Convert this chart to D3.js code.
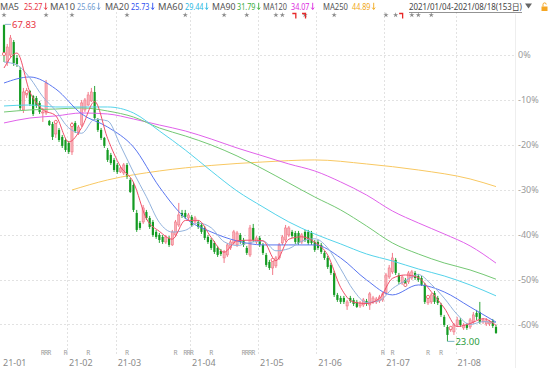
<!DOCTYPE html>
<html>
<head>
<meta charset="utf-8">
<script src="https://cdn.jsdelivr.net/npm/d3@7"></script>
<style>
  html, body { margin: 0; padding: 0; background: #fff; }
  svg { display: block; font-family: "Noto Sans", "Noto Sans CJK SC", sans-serif; }
</style>
</head>
<body>
<svg id="chart" width="553" height="368"></svg>
<script>
// Prix de référence (0 %) et repères de l'axe
const basePrice = 63.5;
const pctTicks = [0, -10, -20, -30, -40, -50, -60];
const monthLabels = ['21-01', '21-02', '21-03', '21-04', '21-05', '21-06', '21-07', '21-08'];
const monthStart = [0, 20, 35, 58, 79, 97, 118, 140];
const rangeText = '2021/01/04-2021/08/18(153日)';

// Bougies journalières (153 séances)
const openP = [67.74, 62.51, 63.50, 65.34, 63.08, 61.38, 55.73, 57.85, 58.41, 57.71, 57.42, 56.72, 55.30, 55.30, 54.17, 53.75, 52.33, 52.90, 51.91, 51.48,
  51.06, 49.79, 53.89, 52.47, 53.60, 55.73, 56.43, 57.00, 58.27, 54.31, 52.90, 51.77, 50.07, 49.36, 48.66,
  47.95, 46.96, 46.82, 47.95, 45.83, 45.12, 41.16, 39.75, 39.89, 41.30, 40.45, 39.89, 38.48, 38.05, 37.77, 37.06, 37.63, 36.64, 38.05, 39.46, 41.16, 41.16, 40.45,
  40.60, 39.89, 39.89, 39.46, 39.04, 37.77, 37.34, 36.92, 36.21, 35.79, 34.80, 35.22, 36.21, 36.92, 36.64, 38.05, 37.34, 36.21, 35.22, 39.04, 37.06,
  37.63, 36.64, 35.22, 34.23, 33.38, 33.67, 34.80, 36.92, 37.34, 38.05, 38.48, 38.33, 38.33, 37.06, 38.48, 38.48, 38.33, 37.06,
  37.06, 36.64, 35.51, 34.80, 33.81, 32.68, 29.57, 29.14, 29.14, 28.01, 29.14, 28.86, 28.58, 28.01, 28.15, 28.72, 28.15, 28.58, 28.58, 28.72, 28.86,
  29.85, 32.11, 32.82, 34.52, 32.39, 31.26, 31.69, 31.41, 31.97, 32.68, 32.25, 31.97, 30.98, 28.44, 28.58, 29.85, 29.14, 28.15, 26.46, 25.04, 24.62, 24.34,
  25.32, 26.03, 24.90, 25.32, 25.04, 25.75, 27.02, 27.16, 25.75, 25.47, 25.47, 25.89, 25.04];
const highP = [67.83, 65.06, 66.33, 65.62, 63.50, 61.81, 58.84, 58.84, 58.55, 57.85, 57.71, 57.00, 56.01, 59.97, 54.31, 54.03, 54.31, 53.18, 52.19, 51.77,
  51.34, 54.03, 54.17, 53.60, 57.14, 57.42, 58.27, 58.84, 59.12, 54.59, 53.18, 51.91, 50.35, 49.65, 48.94,
  48.23, 47.81, 48.23, 48.23, 46.11, 45.55, 41.59, 40.03, 42.29, 41.59, 40.74, 40.17, 38.76, 38.33, 38.05, 38.05, 37.91, 38.76, 40.17, 42.58, 41.59, 41.59, 41.16,
  40.88, 40.74, 40.17, 39.75, 39.32, 38.05, 37.63, 37.20, 36.50, 36.07, 35.93, 36.92, 37.34, 38.76, 38.62, 38.33, 37.63, 36.50, 39.46, 39.61, 37.91,
  37.91, 36.92, 35.51, 34.52, 34.80, 35.08, 36.92, 38.05, 39.46, 39.32, 38.76, 38.62, 38.62, 38.33, 38.76, 38.76, 38.62, 37.34,
  37.34, 36.92, 35.79, 35.08, 34.09, 32.96, 29.85, 29.43, 29.43, 28.86, 29.43, 29.14, 28.86, 28.72, 29.14, 29.00, 29.99, 29.43, 29.28, 29.57, 29.99,
  32.68, 33.81, 35.51, 34.80, 32.68, 32.39, 31.97, 32.96, 33.10, 32.96, 32.54, 32.25, 31.26, 29.57, 29.85, 30.13, 29.43, 28.44, 26.74, 25.32, 25.18, 25.61,
  26.46, 26.31, 25.61, 25.61, 26.31, 27.16, 27.45, 28.58, 26.31, 26.31, 26.03, 26.17, 25.32];
const lowP = [62.51, 61.95, 63.08, 61.95, 61.81, 55.73, 55.30, 57.42, 56.29, 54.88, 56.01, 55.16, 54.03, 55.02, 53.46, 51.48, 51.77, 51.20, 50.35, 49.79,
  49.50, 49.36, 52.47, 52.19, 53.32, 55.44, 56.29, 56.86, 54.31, 52.62, 51.48, 50.35, 48.37, 47.95, 46.96,
  46.68, 46.82, 46.53, 45.97, 43.99, 41.30, 38.48, 38.76, 39.61, 40.17, 38.90, 37.77, 37.49, 36.92, 36.78, 36.78, 36.35, 36.50, 37.77, 39.18, 40.45, 40.31, 40.17,
  39.18, 39.61, 38.90, 38.19, 37.34, 36.78, 35.93, 35.36, 34.94, 35.08, 34.09, 34.94, 35.93, 36.64, 36.35, 36.78, 36.35, 35.22, 34.94, 37.06, 36.78,
  36.35, 35.22, 33.53, 33.10, 32.39, 33.38, 34.52, 36.64, 37.06, 37.77, 37.63, 36.78, 36.64, 36.78, 37.06, 36.64, 36.64, 35.65,
  35.93, 35.36, 34.52, 33.24, 32.39, 29.28, 28.58, 28.29, 28.29, 27.45, 28.44, 28.01, 27.73, 27.73, 27.87, 28.01, 27.45, 28.29, 28.29, 28.44, 28.58,
  29.57, 31.83, 32.54, 32.39, 31.12, 30.98, 30.70, 31.12, 31.69, 31.69, 31.41, 30.84, 28.29, 28.15, 28.29, 28.29, 28.15, 26.46, 25.04, 23.00, 24.34, 23.91,
  25.04, 25.04, 24.62, 24.62, 24.76, 25.47, 26.03, 25.47, 25.47, 25.18, 25.18, 24.90, 24.05];
const closeP = [63.64, 64.63, 65.91, 62.37, 62.23, 56.01, 58.27, 58.27, 56.57, 55.16, 56.29, 55.44, 55.44, 59.54, 53.60, 51.91, 54.03, 51.48, 50.64, 50.07,
  49.79, 53.60, 52.76, 53.32, 56.72, 57.14, 57.85, 58.27, 54.59, 52.90, 51.77, 50.64, 48.66, 48.23, 47.24,
  46.96, 47.52, 47.95, 46.25, 44.13, 41.59, 38.76, 39.04, 41.87, 40.45, 39.18, 38.05, 37.77, 37.34, 37.06, 37.77, 36.64, 38.48, 39.89, 40.88, 40.74, 40.60, 40.88,
  39.46, 40.45, 39.18, 38.48, 37.63, 37.06, 36.21, 35.65, 35.22, 35.36, 35.65, 36.64, 37.06, 38.48, 38.33, 37.06, 36.64, 35.51, 39.04, 37.34, 37.63,
  36.64, 35.51, 33.81, 33.38, 34.52, 34.80, 36.64, 37.77, 39.04, 39.04, 37.91, 37.06, 36.92, 38.05, 37.34, 36.92, 36.92, 35.93,
  36.21, 35.65, 34.80, 33.53, 32.68, 29.57, 28.86, 28.58, 28.58, 28.58, 28.72, 28.29, 27.87, 28.44, 28.86, 28.29, 29.71, 29.14, 29.00, 29.28, 29.71,
  32.39, 33.38, 34.80, 32.68, 31.41, 32.11, 30.98, 32.68, 32.82, 31.97, 31.69, 30.98, 28.58, 29.28, 29.57, 28.58, 28.44, 26.74, 25.32, 23.91, 24.90, 25.32,
  26.03, 25.32, 25.32, 24.90, 26.03, 26.74, 26.46, 25.75, 26.03, 25.89, 25.75, 25.18, 24.19];

const ma5 = [61.66, 63.78, 58.27, 55.78, 54.90, 51.20, 53.23, 56.91, 51.71, 47.72, 45.49, 40.34, 38.56, 37.45, 40.11, 40.11, 37.71, 35.62, 37.23, 37.31,
  37.23, 34.40, 37.45, 37.79, 37.03, 35.22, 30.64, 28.55, 28.35, 29.08, 31.91, 32.39, 32.02, 30.02, 27.73, 25.10, 25.52, 26.20, 25.27];
const ma10 = [62.51, 62.09, 60.25, 57.60, 55.62, 53.19, 52.43, 54.41, 54.18, 50.68, 46.91, 43.45, 39.82, 38.46, 38.71, 39.72, 39.07, 37.09, 36.56, 36.97,
  37.21, 35.81, 36.11, 37.17, 37.51, 36.22, 33.27, 30.21, 28.50, 28.76, 30.46, 31.57, 32.45, 31.06, 29.11, 26.81, 25.38, 25.79, 25.66];
const ma20 = [59.54, 60.39, 58.69, 55.16, 53.32, 50.49, 44.84, 40.45, 38.48, 37.20, 36.64, 36.64, 36.64, 34.80, 31.69, 29.57, 30.98, 29.99, 27.87, 25.73];
const ma60 = [56.29, 56.43, 56.15, 56.15, 56.15, 55.30, 52.76, 50.07, 47.10, 44.27, 42.01, 39.89, 38.19, 36.78, 35.36, 34.37, 33.24, 32.25, 30.98, 29.44];
const ma90 = [55.44, 55.73, 55.86, 56.01, 55.58, 54.73, 53.18, 52.05, 50.78, 49.22, 47.38, 45.40, 43.42, 41.59, 39.32, 36.92, 35.36, 34.09, 33.10, 31.79];
const ma120 = [53.89, 54.59, 54.88, 55.30, 55.16, 54.45, 53.60, 52.76, 51.62, 50.35, 49.22, 48.09, 47.10, 45.55, 43.70, 41.44, 39.75, 38.19, 36.50, 34.07];
const ma250Idx = [21, 32, 48, 64, 80, 96, 112, 128, 144, 152];
const ma250 = [44.41, 45.83, 47.10, 47.88, 48.37, 48.66, 48.09, 47.24, 45.97, 44.89];

// Repères d'évènements
const starIdx = [0, 13, 21, 38, 56, 68, 75, 84, 86, 93, 102, 118, 121, 126, 128, 132];
const flagIdx = [90, 93, 123];
const rIdx = [12, 13, 14, 19, 26, 38, 53, 56, 57, 58, 64, 74, 75, 76, 77, 117, 120, 131, 135];
const dotIdx = [0, 7, 16, 21, 83, 124, 131, 138];

const idx4 = d3.range(0, 153, 4);
const idx8 = d3.range(0, 153, 8);

// lx/lw : position et largeur du libellé, vx : position de la valeur
const maSeries = [
    { name: 'MA5', idx: idx4, values: ma5, line: '#f0506a', text: '#e8333f', lx: 0, lw: 19, vx: 24 },
    { name: 'MA10', idx: idx4, values: ma10, line: '#92b2dc', text: '#6f9bd2', lx: 50, lw: 25, vx: 77 },
    { name: 'MA20', idx: idx8, values: ma20, line: '#5a76f0', text: '#2f50f0', lx: 105, lw: 24, vx: 131 },
    { name: 'MA60', idx: idx8, values: ma60, line: '#55d3ea', text: '#2ab8e2', lx: 158, lw: 25, vx: 185 },
    { name: 'MA90', idx: idx8, values: ma90, line: '#74c874', text: '#3cae3c', lx: 212, lw: 23.5, vx: 237 },
    { name: 'MA120', idx: idx8, values: ma120, line: '#e062ea', text: '#dc2ce0', lx: 263, lw: 24, vx: 291 },
    { name: 'MA250', idx: ma250Idx, values: ma250, line: '#f8c862', text: '#f0a81a', lx: 323, lw: 25, vx: 352 }
];

const svg = d3.select('#chart');
const height = 368;
const plotRight = 515.5;
const plotTop = 17, plotBottom = 356;

const x = d3.scaleLinear().domain([0, closeP.length - 1]).range([4, 496]);
const y = d3.scaleLinear().domain([basePrice, basePrice * 0.4]).range([55, 324.4]);
const step = x(1) - x(0);

svg.append('defs').append('clipPath').attr('id', 'plot')
    .append('rect').attr('x', 0).attr('y', plotTop).attr('width', plotRight).attr('height', plotBottom - plotTop);

// Grille
const grid = svg.append('g').attr('stroke', '#e2e2e2').attr('stroke-dasharray', '2,2');
pctTicks.forEach(t => {
    const yy = Math.round(y(basePrice * (1 + t / 100))) + 0.5;
    grid.append('line').attr('x1', 0).attr('x2', plotRight).attr('y1', yy).attr('y2', yy);
});
monthStart.slice(1).forEach(i => {
    const xx = Math.round(x(i) - step / 2) + 0.5;
    grid.append('line').attr('x1', xx).attr('x2', xx).attr('y1', 12).attr('y2', plotBottom);
});
svg.append('line').attr('x1', plotRight).attr('x2', plotRight).attr('y1', 14).attr('y2', height)
    .attr('stroke', '#eeeeee');

// Étiquettes de l'axe des pourcentages
svg.append('g').selectAll('text').data(pctTicks).enter().append('text')
    .attr('x', 518)
    .attr('y', t => y(basePrice * (1 + t / 100)))
    .attr('dy', '0.35em')
    .attr('font-size', 9)
    .attr('fill', '#9a9a9a')
    .text(t => t + '%');

// Mois
svg.append('g').selectAll('text').data(monthStart).enter().append('text')
    .attr('x', (i, k) => k === 0 ? 3 : x(i) - step / 2 + 2)
    .attr('y', 366)
    .attr('font-size', 9)
    .attr('fill', '#8a8a8a')
    .text((i, k) => monthLabels[k]);

const plot = svg.append('g').attr('clip-path', 'url(#plot)');

// Bougies
const candles = closeP.map((c, i) => ({ i, o: openP[i], h: highP[i], l: lowP[i], c }));
const upFill = '#f8b0b8', upLine = '#f06a7a', downFill = '#149b22';
const bodyW = 2.2;

plot.append('g').selectAll('line').data(candles).enter().append('line')
    .attr('x1', d => x(d.i)).attr('x2', d => x(d.i))
    .attr('y1', d => y(d.h)).attr('y2', d => y(d.l))
    .attr('stroke', d => d.c >= d.o ? upLine : downFill)
    .attr('stroke-width', 0.9);

plot.append('g').selectAll('rect').data(candles).enter().append('rect')
    .attr('x', d => x(d.i) - bodyW / 2)
    .attr('y', d => y(Math.max(d.o, d.c)))
    .attr('width', bodyW)
    .attr('height', d => Math.max(0.8, Math.abs(y(d.o) - y(d.c))))
    .attr('fill', d => d.c >= d.o ? upFill : downFill)
    .attr('stroke', d => d.c >= d.o ? upLine : 'none')
    .attr('stroke-width', 0.5);

// Moyennes mobiles
const maLine = d3.line()
    .x(d => x(d[0]))
    .y(d => y(d[1]))
    .curve(d3.curveMonotoneX);

maSeries.slice().reverse().forEach(s => {
    plot.append('path')
        .attr('d', maLine(d3.zip(s.idx, s.values)))
        .attr('fill', 'none')
        .attr('stroke', s.line)
        .attr('stroke-width', 1);
});

// Petits cercles sur les clôtures
plot.append('g').selectAll('circle').data(dotIdx).enter().append('circle')
    .attr('cx', i => x(i))
    .attr('cy', i => y(closeP[i]))
    .attr('r', 1.6)
    .attr('fill', '#fff')
    .attr('stroke', '#f05060')
    .attr('stroke-width', 0.8);

// Plus haut / plus bas
const hiI = d3.maxIndex(highP);
const loI = d3.minIndex(lowP);
svg.append('line').attr('x1', x(hiI) + 1).attr('x2', x(hiI) + 7)
    .attr('y1', y(highP[hiI])).attr('y2', y(highP[hiI]))
    .attr('stroke', '#8cb4cc');
svg.append('text').attr('x', x(hiI) + 8).attr('y', y(highP[hiI])).attr('dy', '0.35em')
    .attr('font-size', 9.5).attr('fill', '#e8333f')
    .text(highP[hiI].toFixed(2));
svg.append('line').attr('x1', x(loI)).attr('x2', x(loI) + 7)
    .attr('y1', y(lowP[loI])).attr('y2', y(lowP[loI]))
    .attr('stroke', '#7ab4c4');
svg.append('text').attr('x', x(loI) + 8).attr('y', y(lowP[loI])).attr('dy', '0.35em')
    .attr('font-size', 9.5).attr('fill', '#2a9c3c')
    .text(lowP[loI].toFixed(2));

// Marqueurs d'évènements
svg.append('g').selectAll('path').data(starIdx).enter().append('path')
    .attr('transform', i => `translate(${x(i)},15)`)
    .attr('d', d3.symbol(d3.symbolStar, 9))
    .attr('fill', '#8a8a8a');
svg.append('g').selectAll('path').data(flagIdx).enter().append('path')
    .attr('d', i => `M${x(i) - 3},13.5H${x(i) + 0.5}V18.5`)
    .attr('fill', 'none')
    .attr('stroke', '#e82828')
    .attr('stroke-width', 1.3);
svg.append('g').selectAll('text').data(rIdx).enter().append('text')
    .attr('x', i => x(i))
    .attr('y', 355)
    .attr('text-anchor', 'middle')
    .attr('font-size', 6.5)
    .attr('fill', '#9a9a9a')
    .text('R');

// Légende
const legend = svg.append('g').attr('font-size', 9);
maSeries.forEach(s => {
    legend.append('text').attr('x', s.lx).attr('y', 9.5).attr('fill', '#555')
        .attr('textLength', s.lw).attr('lengthAdjust', 'spacingAndGlyphs')
        .text(s.name);
    legend.append('text').attr('x', s.vx).attr('y', 9.5).attr('fill', s.text)
        .attr('textLength', 18.5).attr('lengthAdjust', 'spacingAndGlyphs')
        .text(s.values[s.values.length - 1].toFixed(2));
    const end = s.vx + 20.5;
    // petite flèche vers le bas
    legend.append('path')
        .attr('d', `M${end + 1.2},2.8V9.3M${end - 0.3},7.6L${end + 1.2},9.5L${end + 2.7},7.6`)
        .attr('fill', 'none')
        .attr('stroke', s.text)
        .attr('stroke-width', 0.9);
});

// Intervalle de dates, flèche et cadenas
svg.append('text').attr('x', 409).attr('y', 10).attr('font-size', 8.2).attr('fill', '#444')
    .attr('textLength', 113).attr('lengthAdjust', 'spacingAndGlyphs')
    .text(rangeText);
svg.append('line').attr('x1', 409).attr('x2', 522).attr('y1', 12.5).attr('y2', 12.5)
    .attr('stroke', '#777').attr('stroke-width', 0.8);
svg.append('path').attr('d', 'M525,3.5H532L528.5,8.5Z').attr('fill', '#666');
svg.append('rect').attr('x', 541.5).attr('y', 6.5).attr('width', 6).attr('height', 4.5).attr('fill', '#f5a623');
svg.append('path').attr('d', 'M543,6.5V4.5A1.6,1.6 0 0 1 546.2,4.5')
    .attr('fill', 'none').attr('stroke', '#f5a623').attr('stroke-width', 1);
</script>
</body>
</html>
